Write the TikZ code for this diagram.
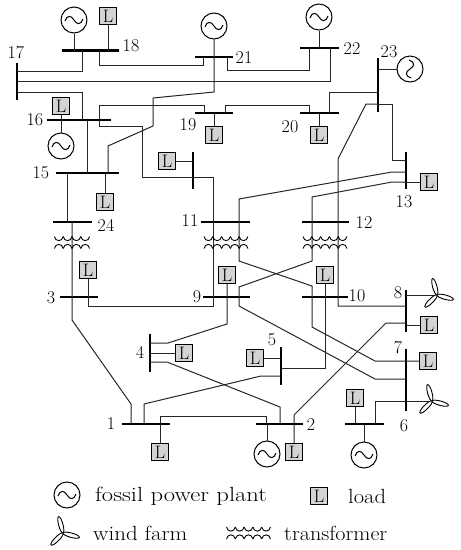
\documentclass[tikz,border=0pt]{standalone}
\usepackage{graphicx}
\newcommand{\leg}[2]{\scalebox{#1}[1]{\fontsize{20.5}{22}\selectfont #2}}
\tikzset{
  x=1pt,y=-1pt,
  wire/.style={line width=1pt,black!85,line join=miter},
  hbus/.style={rectangle,fill=black,inner sep=0pt,minimum height=2.2pt,draw=none},
  vbus/.style={rectangle,fill=black,inner sep=0pt,minimum width=2.2pt,draw=none},
  load/.style={rectangle,draw=black,line width=1.4pt,fill=black!17,minimum size=16.5pt,inner sep=0pt,font=\fontsize{18}{18}\selectfont},
  gen/.style={circle,draw=black,line width=1pt,minimum size=26pt,inner sep=0pt,
    path picture={\draw[line width=1pt,shift={(path picture bounding box.center)}]
      (-9,1) .. controls (-7,-5) and (-3,-5) .. (0,0) .. controls (3,5) and (7,5) .. (9,-1);}},
  genv/.style={circle,draw=black,line width=1pt,minimum size=26pt,inner sep=0pt,
    path picture={\draw[line width=1pt,shift={(path picture bounding box.center)}]
      (-1,-9) .. controls (5,-7) and (5,-3) .. (0,0) .. controls (-5,3) and (-5,7) .. (1,9);}},
  lab/.style={inner sep=0pt,font=\fontsize{18}{18}\selectfont},
  turbine/.pic={
    \foreach \a in {105,-15,-135}{\draw[line width=.9pt,fill=white,rotate=\a] (8.5,0) ellipse (8.5 and 2.2);}
  },
  xfmr/.pic={
    \foreach \i in {1,...,#1}{
      \draw[line width=.9pt] ({(\i-1)*8.8-#1*4.4},-6) .. controls ({(\i-1)*8.8-#1*4.4+1},-.5) and ({\i*8.8-#1*4.4-1},-.5) .. ({\i*8.8-#1*4.4},-6);
      \draw[line width=.9pt] ({(\i-1)*8.8-#1*4.4},6) .. controls ({(\i-1)*8.8-#1*4.4+1},.5) and ({\i*8.8-#1*4.4-1},.5) .. ({\i*8.8-#1*4.4},6);
    }
  },
}
\begin{document}
\begin{tikzpicture}
\useasboundingbox (0,0) rectangle (461,550);
% buses
\node[hbus,minimum width=57pt] (b18) at (90.5,50.5) {};
\node[hbus,minimum width=38pt] (b21) at (214,57) {};
\node[hbus,minimum width=39pt] (b22) at (319.5,48) {};
\node[vbus,minimum height=37pt] (b17) at (17,81.5) {};
\node[hbus,minimum width=64pt] (b16) at (79,120) {};
\node[hbus,minimum width=38pt] (b19) at (214,113) {};
\node[hbus,minimum width=39pt] (b20) at (319.5,113) {};
\node[vbus,minimum height=54pt] (b23) at (378,85) {};
\node[hbus,minimum width=63pt] (b15) at (87.5,173) {};
\node[vbus,minimum height=37pt] (b14) at (193,170.5) {};
\node[vbus,minimum height=37pt] (b13) at (406,170.5) {};
\node[hbus,minimum width=39pt] (b24) at (72.5,222) {};
\node[hbus,minimum width=49pt] (b11) at (225.5,222) {};
\node[hbus,minimum width=47pt] (b12) at (325.5,222) {};
\node[hbus,minimum width=38pt] (b3) at (79,297) {};
\node[hbus,minimum width=47pt] (b9) at (226.5,297) {};
\node[hbus,minimum width=46pt] (b10) at (325,297) {};
\node[vbus,minimum height=42pt] (b8) at (406,311) {};
\node[vbus,minimum height=62pt] (b7) at (406,380) {};
\node[vbus,minimum height=38pt] (b4) at (150,353) {};
\node[vbus,minimum height=38pt] (b5) at (281,366) {};
\node[hbus,minimum width=48pt] (b1) at (146,424) {};
\node[hbus,minimum width=47pt] (b2) at (279.5,424) {};
\node[hbus,minimum width=39pt] (b6) at (364.5,424) {};
% generators
\node[gen] (g18) at (74,20) {};
\node[gen] (g21) at (214,26) {};
\node[gen] (g22) at (319,17) {};
\node[genv] (g23) at (410,69) {};
\node[gen] (g16) at (61,146) {};
\node[gen] (g2) at (267,454) {};
\node[gen] (g6) at (364,455) {};
% loads
\node[load] (l18) at (108,16) {L};
\node[load] (l16) at (61,106) {L};
\node[load] (l19) at (214,135) {L};
\node[load] (l20) at (319,135) {L};
\node[load] (l14) at (167,161) {L};
\node[load] (l13) at (429,182) {L};
\node[load] (l15) at (105,202) {L};
\node[load] (l3) at (88,270) {L};
\node[load] (l9) at (227,275) {L};
\node[load] (l10) at (325,275) {L};
\node[load] (l8) at (429,325) {L};
\node[load] (l7) at (428,361) {L};
\node[load] (l4) at (184,353) {L};
\node[load] (l5) at (255,358) {L};
\node[load] (l6) at (355,398) {L};
\node[load] (l1) at (160,452) {L};
\node[load] (l2) at (294,452) {L};
% turbine hubs
\coordinate (w8) at (437,295);
\coordinate (w6) at (432,401);
% labels
\node[lab] (t1) at (111,424) {1};
\node[lab] (t2) at (311,425) {2};
\node[lab] (t3) at (51,298) {3};
\node[lab] (t4) at (140,352) {4};
\node[lab] (t5) at (272,340) {5};
\node[lab] (t6) at (404,426) {6};
\node[lab] (t7) at (398,348) {7};
\node[lab] (t8) at (398,293) {8};
\node[lab] (t9) at (197,297) {9};
\node[lab] (t10) at (357,296) {10};
\node[lab] (t11) at (190,221) {11};
\node[lab] (t12) at (364,223) {12};
\node[lab] (t13) at (404,202) {13};
\node[lab] (t15) at (41,173) {15};
\node[lab] (t16) at (35,120) {16};
\node[lab] (t17) at (16,53) {17};
\node[lab] (t18) at (131,46) {18};
\node[lab] (t19) at (188,125) {19};
\node[lab] (t20) at (290,127) {20};
\node[lab] (t21) at (244,58) {21};
\node[lab] (t22) at (352,49) {22};
\node[lab] (t23) at (389,52) {23};
\node[lab] (t24) at (106,225) {24};
% connectors: generators, loads
\draw[wire] (g18) -- (g18 |- b18);
\draw[wire] (g22) -- (g22 |- b22);
\draw[wire] (g23) -- (b23 |- g23);
\draw[wire] (g16) -- (l16);
\draw[wire] (l18) -- (l18 |- b18);
\draw[wire] (l19) -- (l19 |- b19);
\draw[wire] (l20) -- (l20 |- b20);
\draw[wire] (l14) -- (b14 |- l14);
\draw[wire] (l13) -- (b13 |- l13);
\draw[wire] (l15) -- (l15 |- b15);
\draw[wire] (l8) -- (b8 |- l8);
\draw[wire] (l7) -- (375,361) -- (312,327) -- (312,286) -- (239,261) -- (239,199) -- (392,172) -- (b13 |- 0,172);
\draw[wire] (l4) -- (b4 |- l4);
\draw[wire] (l5) -- (b5 |- l5);
\draw[wire] (l6) -- (l6 |- b6);
\draw[wire] (l1) -- (l1 |- 0,416) -- (266,416) -- (266,0 |- b2);
\draw[wire] (g2) -- (g2 |- b2);
\draw[wire] (g6) -- (g6 |- b6);
\draw[wire] (w8) -- (b8 |- w8);
\draw[wire] (w6) -- (375,401) -- (375,0 |- b6);
% connectors: lines
\draw[wire] (82,0 |- b18) -- (82,71) -- (b17 |- 0,71);
\draw[wire] (99,0 |- b18) -- (99,65) -- (203,65) -- (203,0 |- b21);
\draw[wire] (b17) -- (330,81.5) -- (330,0 |- b22);
\draw[wire] (b17 |- 0,92) -- (82,92) -- (82,0 |- b16);
\draw[wire] (g21) -- (214,92) -- (153,98) -- (153,126) -- (108,146) -- (108,0 |- b15);
\draw[wire] (227,0 |- b21) -- (227,70) -- (309,70) -- (309,0 |- b22);
\draw[wire] (204,0 |- b19) -- (204,105) -- (99,105) -- (99,126) -- (142,126) -- (142,177) -- (213,177) -- (213,306) -- (88,306) -- (l3);
\draw[wire] (225,0 |- b19) -- (225,105) -- (309,105) -- (309,0 |- b20);
\draw[wire] (329,0 |- b20) -- (329,92) -- (b23 |- 0,92);
\draw[wire] (b23 |- 0,104) -- (366,104) -- (338,159) -- (338,306) -- (b8 |- 0,306);
\draw[wire] (b23 |- 0,104) -- (392,104) -- (392,160) -- (b13 |- 0,160);
\draw[wire] (b13 |- 0,182) -- (392,182) -- (312,197) -- (312,261) -- (239,287) -- (239,306) -- (375,379) -- (b7 |- 0,379);
\draw[wire] (87,0 |- b16) -- (87,0 |- b15);
\draw[wire] (67,0 |- b15) -- (67,0 |- b24);
\draw[wire] (72,0 |- b24) -- (72,320) -- (131,404) -- (131,0 |- b1);
\draw[wire] (l9) -- (227,324) -- (168,343) -- (b4 |- 0,343);
\draw[wire] (b4 |- 0,362) -- (167,362) -- (280,407) -- (280,0 |- b2);
\draw[wire] (l10) -- (325,368) -- (b5 |- 0,368);
\draw[wire] (b5 |- 0,376) -- (261,376) -- (144,404) -- (144,0 |- b1);
\draw[wire] (l2) -- (294,415) -- (386,323) -- (b8 |- 0,323);
% transformers
\pic at (72,242.5) {xfmr=4};
\pic at (226,242.5) {xfmr=5};
\pic at (325,242.5) {xfmr=5};
% turbines
\pic at (w8) {turbine};
\pic at (w6) {turbine};
% legend
\node[gen] (lg) at (67,495) {};
\node[anchor=west,inner sep=0pt] (lgt) at (95,496) {\leg{1.2}{fossil power plant}};
\node[load] (ll) at (319,496) {L};
\node[anchor=west,inner sep=0pt] (llt) at (348,496) {\leg{1.1}{load}};
\coordinate (lw) at (63,533);
\pic at (lw) {turbine};
\node[anchor=west,inner sep=0pt] (lwt) at (93,533) {\leg{1.12}{wind farm}};
\pic at (248.5,533) {xfmr=5};
\node[anchor=west,inner sep=0pt] (lxt) at (284,533) {\leg{1.08}{transformer}};
\end{tikzpicture}
\end{document}
